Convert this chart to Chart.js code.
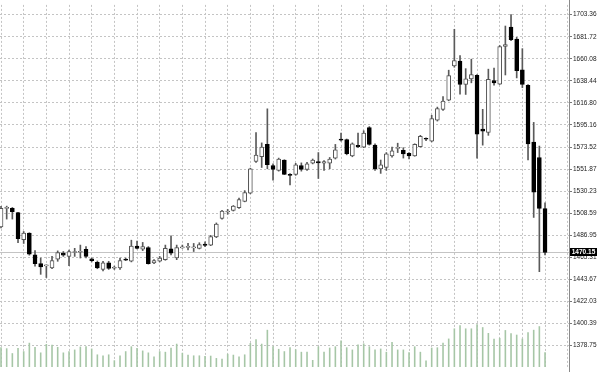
<!DOCTYPE html>
<html>
<head>
<meta charset="utf-8">
<script src="https://cdn.jsdelivr.net/npm/chart.js"></script>
<style>
  html, body { margin: 0; padding: 0; background: #fff; }
  #wrap { width: 600px; height: 372px; position: relative; }
</style>
</head>
<body>
<div id="wrap"><canvas id="chart"></canvas></div>
<script>
// OHLC per bar, oldest first
const opens = [
  1495.2,1513.4,1513.4,1509.3,1482.8,1489.2,1467.8,1459.2,1457.0,1455.1,
  1463.7,1469.5,1466.3,1470.1,1470.4,1473.3,1464.0,1460.6,1453.5,1459.9,
  1454.7,1455.1,1463.7,1461.5,1476.4,1473.3,1474.9,1459.9,1461.5,1463.1,
  1473.6,1464.7,1474.7,1475.2,1474.7,1474.2,1478.3,1477.4,1485.4,1503.5,
  1509.8,1511.5,1514.0,1520.3,1528.4,1559.5,1564.0,1576.1,1555.4,1550.6,
  1560.8,1546.8,1546.8,1555.4,1551.6,1557.6,1559.2,1557.6,1557.6,1562.7,
  1581.4,1580.9,1564.9,1575.1,1573.5,1592.6,1575.4,1552.2,1553.5,1564.9,
  1572.3,1570.4,1567.3,1564.9,1574.0,1581.6,1579.3,1600.0,1610.5,1619.6,
  1653.1,1657.8,1634.9,1640.4,1643.9,1591.2,1587.8,1638.7,1635.3,1672.1,
  1691.2,1679.5,1649.2,1634.0,1578.3,1563.3,1513.1
];
const highs = [
  1515.3,1515.6,1514.3,1509.6,1490.7,1489.5,1472.0,1464.7,1458.0,1466.3,
  1471.7,1471.1,1472.6,1474.2,1477.4,1475.9,1464.7,1461.8,1461.5,1461.5,
  1456.8,1464.7,1464.7,1482.2,1481.2,1480.0,1475.9,1463.1,1466.3,1477.4,
  1486.4,1477.4,1477.4,1479.0,1479.0,1479.7,1480.6,1486.9,1499.1,1511.5,
  1512.4,1516.2,1523.6,1530.8,1552.8,1587.8,1577.6,1611.0,1557.0,1562.7,
  1561.1,1547.5,1557.6,1558.0,1558.5,1561.8,1568.1,1560.2,1563.3,1576.1,
  1587.2,1581.4,1577.6,1587.2,1589.5,1593.6,1576.7,1560.8,1568.1,1573.5,
  1577.3,1572.9,1568.1,1576.7,1585.0,1582.6,1604.7,1612.7,1622.9,1648.9,
  1689.0,1663.3,1650.4,1659.7,1644.5,1610.5,1649.9,1650.9,1673.1,1692.2,
  1703.4,1681.1,1670.0,1634.9,1597.7,1574.5,1518.8
];
const lows = [
  1494.3,1502.9,1502.9,1479.7,1479.0,1467.5,1456.8,1448.7,1445.6,1454.2,
  1461.5,1466.3,1457.3,1466.3,1464.7,1464.7,1460.9,1454.2,1452.0,1453.5,
  1453.5,1453.5,1462.1,1460.9,1473.6,1472.0,1458.7,1459.2,1460.9,1462.5,
  1467.8,1463.1,1474.2,1472.6,1471.1,1473.6,1475.9,1476.8,1484.7,1502.9,
  1507.6,1510.8,1513.4,1519.8,1527.7,1558.5,1553.5,1552.2,1541.1,1549.9,
  1546.5,1536.3,1545.8,1549.9,1550.6,1557.0,1542.7,1550.6,1552.2,1561.8,
  1579.3,1565.9,1564.0,1572.9,1572.9,1575.4,1550.6,1547.7,1550.6,1563.5,
  1568.1,1562.7,1561.8,1564.5,1573.5,1579.9,1578.6,1599.0,1609.5,1618.9,
  1651.8,1625.4,1625.1,1636.5,1562.7,1575.4,1585.0,1634.1,1634.9,1644.2,
  1677.9,1641.3,1631.8,1560.8,1504.5,1451.3,1467.8
];
const closes = [
  1513.4,1514.3,1510.2,1483.8,1489.2,1468.5,1459.2,1456.1,1457.5,1462.1,
  1470.1,1467.5,1471.1,1471.1,1470.9,1466.3,1462.1,1455.1,1459.9,1454.5,
  1455.6,1462.1,1462.5,1476.4,1474.2,1475.9,1459.2,1462.1,1464.7,1474.2,
  1469.5,1474.9,1475.2,1475.7,1475.2,1478.0,1477.1,1485.7,1498.1,1510.8,
  1510.5,1515.6,1522.0,1528.9,1552.2,1565.6,1573.5,1556.3,1551.6,1561.8,
  1546.8,1545.8,1556.1,1551.6,1557.0,1560.8,1558.0,1559.2,1561.8,1570.7,
  1580.2,1567.1,1576.7,1573.8,1587.2,1576.1,1552.2,1556.1,1566.8,1569.7,
  1572.9,1566.8,1564.9,1576.1,1584.0,1581.2,1601.5,1611.2,1618.7,1643.5,
  1658.2,1634.9,1640.4,1644.5,1586.2,1589.1,1639.9,1636.5,1672.1,1674.1,
  1678.8,1648.3,1634.9,1576.7,1529.3,1513.4,1470.15
];
// tick volume per bar
const volumes = [
  203,193,143,197,163,250,207,150,237,230,
  207,150,163,180,210,213,190,130,120,130,
  70,120,163,213,197,170,150,110,163,157,
  200,240,147,127,120,120,113,117,93,87,
  137,127,110,130,247,287,240,383,213,187,
  163,203,183,157,157,73,213,157,200,213,
  273,203,180,233,243,213,180,190,157,257,
  180,180,153,213,157,67,200,203,250,293,
  397,430,397,397,440,410,350,290,300,380,
  347,333,293,357,383,420,153
];
// price axis labels
const yTickLabels = [
  '1703.36','1681.72','1660.08','1638.44','1616.80','1595.16','1573.52','1551.87',
  '1530.23','1508.59','1486.95','1465.31','1443.67','1422.03','1400.39','1378.75'
];

const yTickValues = yTickLabels.map(parseFloat);
const lastPrice = closes[closes.length - 1];
const isUp = closes.map((c, i) => c >= opens[i]);

const bidPlugin = {
  id: 'bidLine',
  beforeDatasetsDraw(chart) {
    const { ctx, chartArea } = chart;
    const y = Math.round(chart.scales.y.getPixelForValue(lastPrice)) + 0.5;
    ctx.save();
    ctx.strokeStyle = '#c4c4c4';
    ctx.lineWidth = 1;
    ctx.beginPath();
    ctx.moveTo(chartArea.left, y);
    ctx.lineTo(chartArea.right, y);
    ctx.stroke();
    ctx.restore();
  },
  afterDraw(chart) {
    const { ctx, chartArea } = chart;
    ctx.save();
    // axis line
    ctx.strokeStyle = '#8a8a8a';
    ctx.lineWidth = 1;
    ctx.beginPath();
    ctx.moveTo(chartArea.right + 0.5, 0);
    ctx.lineTo(chartArea.right + 0.5, chart.height);
    ctx.stroke();
    // current price label
    const y = chart.scales.y.getPixelForValue(lastPrice);
    ctx.fillStyle = '#000';
    ctx.fillRect(chartArea.right + 1, Math.round(y - 4), 27, 8);
    ctx.fillStyle = '#fff';
    ctx.font = 'bold 6.5px "Liberation Sans", Arial, sans-serif';
    ctx.textAlign = 'center';
    ctx.textBaseline = 'middle';
    ctx.fillText(lastPrice.toFixed(2), chartArea.right + 14.5, Math.round(y - 4) + 4.3);
    ctx.restore();
  }
};

new Chart(document.getElementById('chart'), {
  type: 'bar',
  data: {
    datasets: [
      {
        label: 'Body',
        data: opens.map((o, i) => ({ x: i, y: [o, closes[i]] })),
        backgroundColor: isUp.map(u => u ? '#ffffff' : '#000000'),
        borderColor: isUp.map(u => u ? '#555555' : '#000000'),
        borderWidth: 1,
        borderSkipped: false,
        barThickness: 4,
        minBarLength: 1,
        grouped: false,
        yAxisID: 'y'
      },
      {
        label: 'Wick',
        data: lows.map((l, i) => ({ x: i, y: [l, highs[i]] })),
        backgroundColor: '#5a5a5a',
        borderWidth: 0,
        barThickness: 1,
        grouped: false,
        yAxisID: 'y'
      },
      {
        label: 'Volume',
        data: volumes.map((v, i) => ({ x: i, y: v })),
        backgroundColor: '#a6c6a6',
        borderWidth: 0,
        barThickness: 1.6,
        inflateAmount: 0,
        grouped: false,
        yAxisID: 'v'
      }
    ]
  },
  options: {
    responsive: true,
    maintainAspectRatio: false,
    animation: false,
    devicePixelRatio: 1,
    layout: { padding: 0 },
    plugins: {
      legend: { display: false },
      tooltip: { enabled: false }
    },
    scales: {
      x: {
        type: 'linear',
        offset: false,
        min: -0.18,
        max: 100.23,
        ticks: { display: false, stepSize: 4, includeBounds: false },
        grid: { color: '#c4c4c4', drawTicks: false, offset: false },
        border: { display: false, dash: [2, 2] },
        afterFit: scale => { scale.height = 0; }
      },
      y: {
        position: 'right',
        min: 1357.75,
        max: 1712.91,
        afterBuildTicks: scale => { scale.ticks = yTickValues.map(v => ({ value: v })); },
        afterFit: scale => { scale.width = 31; },
        ticks: {
          autoSkip: false,
          padding: 1,
          color: '#222',
          font: { family: '"Liberation Sans", Arial, sans-serif', size: 6.5 },
          callback: v => v.toFixed(2)
        },
        grid: { color: '#c4c4c4', tickLength: 3, tickColor: '#777' },
        border: { display: false, dash: [2, 2] }
      },
      v: {
        display: false,
        min: 0,
        max: 3720
      }
    }
  },
  plugins: [bidPlugin]
});
</script>
</body>
</html>
